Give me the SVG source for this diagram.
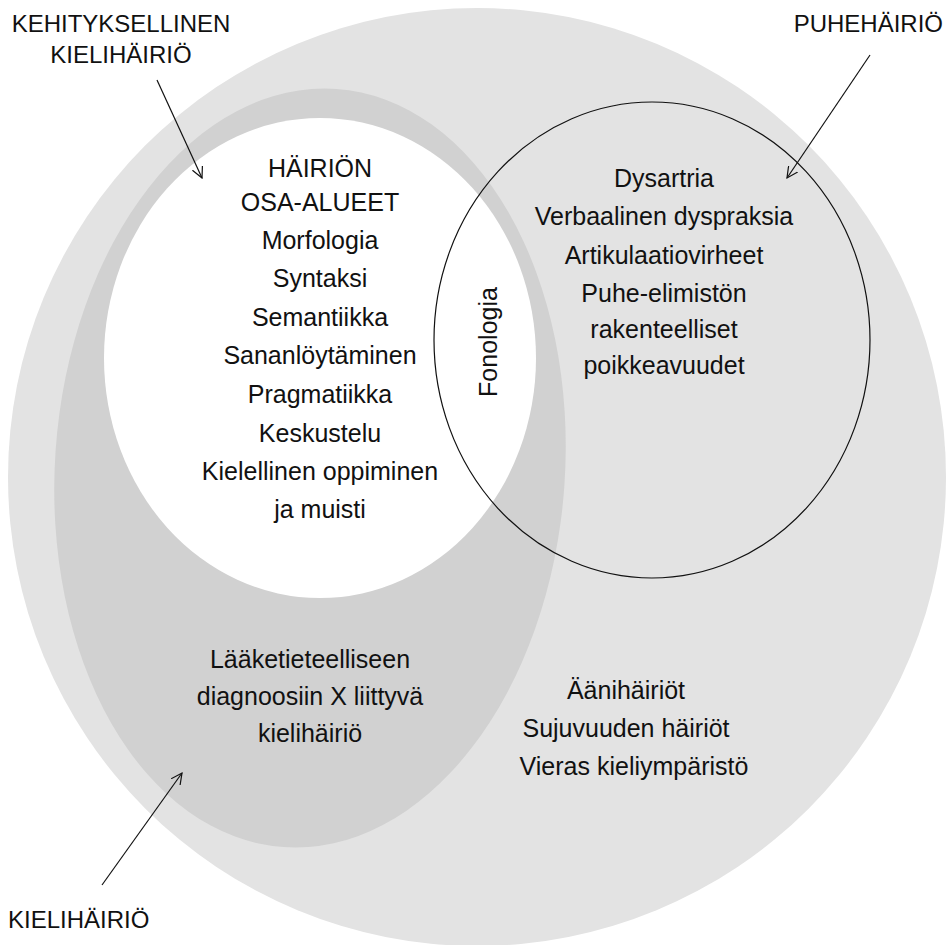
<svg xmlns="http://www.w3.org/2000/svg" width="949" height="945" viewBox="0 0 949 945">
<style>
text{font-family:"Liberation Sans","Noto Sans",sans-serif;fill:#111;}
.b{font-size:25px;text-anchor:middle;}
.l{font-size:24px;}
.arr{stroke:#111;stroke-width:1.2;fill:none;marker-end:url(#ah);}
</style>
<defs>
<marker id="ah" viewBox="0 0 12 12" refX="11" refY="6" markerWidth="12" markerHeight="12" markerUnits="userSpaceOnUse" orient="auto">
<path d="M0,0.5 L11,6 L0,11.5" fill="none" stroke="#111" stroke-width="1.2"/>
</marker>
</defs>
<rect width="949" height="945" fill="#ffffff"/>
<g id="kielihairio">
<circle cx="477" cy="477" r="469" fill="#e3e3e3"/>
</g>
<g id="kehityksellinen">
<ellipse cx="310" cy="468" rx="255" ry="380" transform="rotate(4 310 468)" fill="#d1d1d1"/>
</g>
<g id="osa-alueet">
<ellipse cx="320" cy="358" rx="216" ry="240" fill="#ffffff"/>
<text class="b" x="320" y="177">HÄIRIÖN</text>
<text class="b" x="320" y="211">OSA-ALUEET</text>
<text class="b" x="320" y="249">Morfologia</text>
<text class="b" x="320" y="287">Syntaksi</text>
<text class="b" x="320" y="326">Semantiikka</text>
<text class="b" x="320" y="364">Sananlöytäminen</text>
<text class="b" x="320" y="403">Pragmatiikka</text>
<text class="b" x="320" y="442">Keskustelu</text>
<text class="b" x="320" y="480">Kielellinen oppiminen</text>
<text class="b" x="320" y="518">ja muisti</text>
</g>
<g id="puhehairio">
<ellipse cx="652" cy="340" rx="218" ry="238" fill="none" stroke="#111" stroke-width="1.2"/>
<text class="b" x="664" y="187">Dysartria</text>
<text class="b" x="664" y="225">Verbaalinen dyspraksia</text>
<text class="b" x="664" y="264">Artikulaatiovirheet</text>
<text class="b" x="664" y="302">Puhe-elimistön</text>
<text class="b" x="664" y="338">rakenteelliset</text>
<text class="b" x="664" y="374">poikkeavuudet</text>
</g>
<g id="fonologia">
<text class="b" transform="translate(497 342) rotate(-90)" x="0" y="0">Fonologia</text>
</g>
<g id="diagnoosi">
<text class="b" x="310" y="668">Lääketieteelliseen</text>
<text class="b" x="310" y="705">diagnoosiin X liittyvä</text>
<text class="b" x="310" y="742">kielihäiriö</text>
</g>
<g id="muut">
<text class="b" x="626" y="699">Äänihäiriöt</text>
<text class="b" x="626" y="737">Sujuvuuden häiriöt</text>
<text class="b" x="634" y="775">Vieras kieliympäristö</text>
</g>
<g id="labels">
<text class="l" x="121" y="32" text-anchor="middle">KEHITYKSELLINEN</text>
<text class="l" x="121" y="63" text-anchor="middle">KIELIHÄIRIÖ</text>
<text class="l" x="943" y="32" text-anchor="end">PUHEHÄIRIÖ</text>
<text class="l" x="8" y="928">KIELIHÄIRIÖ</text>
</g>
<g id="connectors">
<line class="arr" x1="157" y1="80" x2="202" y2="178"/>
<line class="arr" x1="870" y1="55" x2="787" y2="178"/>
<line class="arr" x1="102" y1="885" x2="182" y2="773"/>
</g>
</svg>
